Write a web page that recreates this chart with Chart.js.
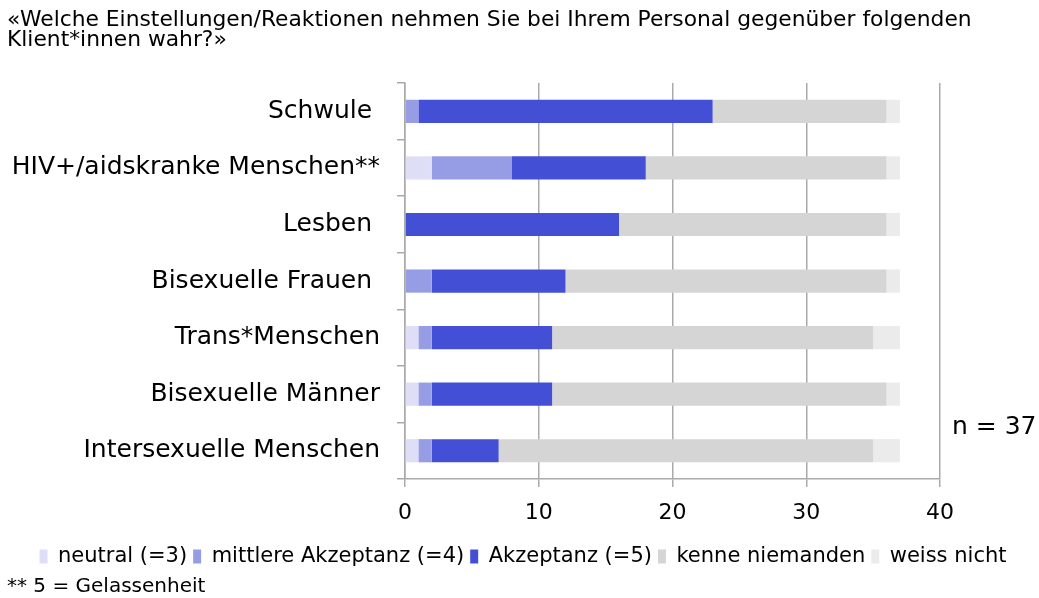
<!DOCTYPE html>
<html>
<head>
<meta charset="utf-8">
<script src="https://cdn.jsdelivr.net/npm/chart.js@4"></script>
<style>
  html, body { margin: 0; padding: 0; background: #fff; }
  #wrap { width: 1039px; height: 598px; }
</style>
</head>
<body>
<div id="wrap"><canvas id="chart"></canvas></div>
<script>
// data
const categories = ['Schwule ', 'HIV+/aidskranke Menschen**', 'Lesben ', 'Bisexuelle Frauen ', 'Trans*Menschen', 'Bisexuelle Männer', 'Intersexuelle Menschen'];
const neutral = [0, 2, 0, 0, 1, 1, 1];
const mittlere = [1, 6, 0, 2, 1, 1, 1];
const akzeptanz = [22, 10, 16, 10, 9, 9, 5];
const kenneNiemanden = [13, 18, 20, 24, 24, 25, 28];
const weissNicht = [1, 1, 1, 1, 2, 1, 2];
const xTicks = [0, 10, 20, 30, 40];
const sampleNote = 'n = 37';

Chart.defaults.font.family = "'DejaVu Sans', Verdana, sans-serif";
Chart.defaults.color = '#000';

// "n = 37" next to the plot
const nLabel = {
    id: 'nLabel',
    afterDraw(chart) {
        const ctx = chart.ctx;
        const y = chart.scales.y;
        ctx.save();
        ctx.font = "25px 'DejaVu Sans'";
        ctx.fillStyle = '#000';
        ctx.textBaseline = 'middle';
        ctx.fillText(sampleNote, chart.chartArea.right + 12, y.getPixelForValue(6) - 23);
        ctx.restore();
    }
};

function ds(label, data, color) {
    return {
        label: label,
        data: data,
        backgroundColor: color,
        borderWidth: 0,
        barPercentage: 0.41,
        categoryPercentage: 1
    };
}

new Chart(document.getElementById('chart'), {
    type: 'bar',
    data: {
        labels: categories,
        datasets: [
            ds('neutral (=3)', neutral, '#dedef7'),
            ds('mittlere Akzeptanz (=4)', mittlere, '#979de4'),
            ds('Akzeptanz (=5)', akzeptanz, '#4350d6'),
            ds('kenne niemanden', kenneNiemanden, '#d5d5d5'),
            ds('weiss nicht', weissNicht, '#ebebeb')
        ]
    },
    options: {
        indexAxis: 'y',
        responsive: true,
        maintainAspectRatio: false,
        animation: false,
        layout: { padding: { left: 7, right: 0, top: 0, bottom: 1 } },
        scales: {
            x: {
                stacked: true,
                min: 0,
                max: 40,
                afterBuildTicks(axis) { axis.ticks = xTicks.map(v => ({ value: v })); },
                afterFit(axis) { axis.height = 61; },
                ticks: { font: { size: 22 }, padding: 13 },
                grid: { color: '#aaaaaa', tickLength: 8, lineWidth: 1.5 },
                border: { color: '#aaaaaa', width: 1.5 }
            },
            y: {
                stacked: true,
                afterFit(axis) { axis.width = 398; },
                ticks: { font: { size: 25 }, padding: 17 },
                grid: { drawOnChartArea: false, offset: true, color: '#aaaaaa', tickLength: 8, lineWidth: 1.5 },
                border: { color: '#aaaaaa', width: 1.5 }
            },
            // empty right axis, keeps room for the n label
            yRight: {
                type: 'category',
                position: 'right',
                afterFit(axis) { axis.width = 99; },
                ticks: { display: false },
                grid: { display: false },
                border: { display: false }
            }
        },
        plugins: {
            title: {
                display: true,
                text: ['«Welche Einstellungen/Reaktionen nehmen Sie bei Ihrem Personal gegenüber folgenden', 'Klient*innen wahr?»'],
                align: 'start',
                font: { size: 21.8, weight: 'normal', lineHeight: 0.92 },
                padding: { top: 10, bottom: 33 }
            },
            subtitle: {
                display: true,
                position: 'bottom',
                align: 'start',
                text: '** 5 = Gelassenheit',
                font: { size: 20, lineHeight: 1 },
                padding: { top: 0, bottom: 0 }
            },
            legend: {
                position: 'bottom',
                labels: { boxWidth: 8, boxHeight: 14, font: { size: 21 }, padding: 6 }
            },
            tooltip: { enabled: false }
        }
    },
    plugins: [nLabel]
});
</script>
</body>
</html>
